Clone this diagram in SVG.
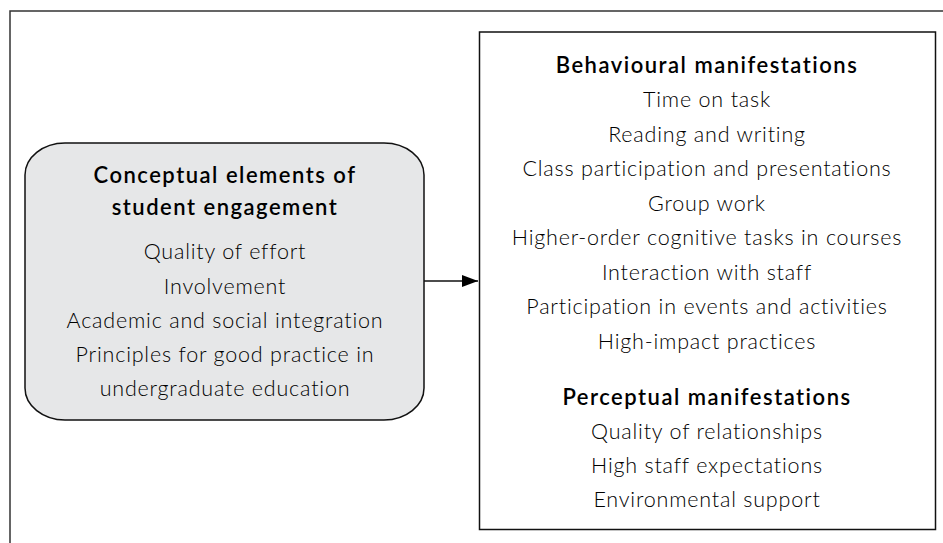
<svg xmlns="http://www.w3.org/2000/svg" width="943" height="543" viewBox="0 0 943 543">
  <defs>
    <marker id="arrow" viewBox="0 0 16 12" refX="16" refY="6" markerWidth="16" markerHeight="12" markerUnits="userSpaceOnUse" orient="auto">
      <path d="M0,0 L16,6 L0,12 Z" fill="#000"/>
    </marker>
    <style>
      text { font-family: Lato, "Liberation Sans", sans-serif; fill: #000; text-anchor: middle; }
      .head { font-size: 22px; font-weight: 600; letter-spacing: 1.5px; }
      .item { font-size: 21.5px; font-weight: 300; letter-spacing: 0.8px; }
      .frame { fill: none; stroke: #333; stroke-width: 1.5; }
      .box { stroke: #111; stroke-width: 1.5; }
      .link { stroke: #111; stroke-width: 1.5; fill: none; }
    </style>
  </defs>
  <rect width="943" height="543" fill="#fff"/>

  <!-- outer frame, open on the right and bottom -->
  <path class="frame" d="M10,543 V11 H943"/>

  <g id="conceptual">
    <rect class="box" x="25" y="143" width="399" height="277" rx="40" ry="32" fill="#e6e7e8"/>
    <text class="head" x="225" y="183">Conceptual elements of</text>
    <text class="head" x="225" y="215">student engagement</text>
    <text class="item" x="225" y="259">Quality of effort</text>
    <text class="item" x="225" y="294">Involvement</text>
    <text class="item" x="225" y="328">Academic and social integration</text>
    <text class="item" x="225" y="362">Principles for good practice in</text>
    <text class="item" x="225" y="396">undergraduate education</text>
  </g>

  <g id="manifestations">
    <rect class="box" x="479.5" y="32" width="456" height="497.5" fill="#fff"/>
    <text class="head" x="707" y="73">Behavioural manifestations</text>
    <text class="item" x="707" y="107">Time on task</text>
    <text class="item" x="707" y="142">Reading and writing</text>
    <text class="item" x="707" y="176">Class participation and presentations</text>
    <text class="item" x="707" y="211">Group work</text>
    <text class="item" x="707" y="245">Higher-order cognitive tasks in courses</text>
    <text class="item" x="707" y="280">Interaction with staff</text>
    <text class="item" x="707" y="314">Participation in events and activities</text>
    <text class="item" x="707" y="349">High-impact practices</text>
    <text class="head" x="707" y="405">Perceptual manifestations</text>
    <text class="item" x="707" y="439">Quality of relationships</text>
    <text class="item" x="707" y="473">High staff expectations</text>
    <text class="item" x="707" y="507">Environmental support</text>
  </g>

  <g id="connectors">
    <line class="link" x1="424" y1="281" x2="478" y2="281" marker-end="url(#arrow)"/>
  </g>
</svg>
